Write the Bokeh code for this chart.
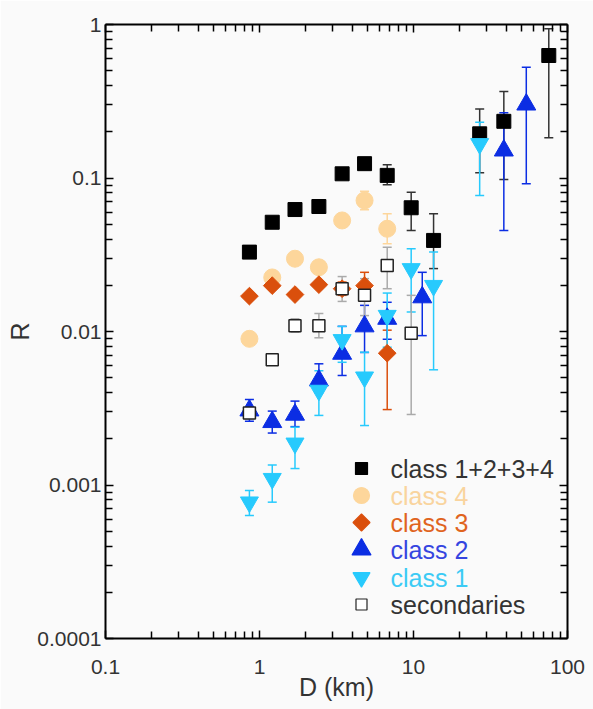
import math
from bokeh.plotting import figure
from bokeh.models import (LogAxis, FixedTicker, CustomJSTickFormatter, Whisker, TeeHead,
                          ColumnDataSource, Range1d, LinearScale)
from bokeh.core.properties import value
from bokeh.embed import file_html
from bokeh.resources import INLINE

# ---------------- data ----------------
# class 1+2+3+4
D_all = [0.86, 1.21, 1.70, 2.43, 3.44, 4.81, 6.75, 9.66, 13.5, 26.9, 38.6, 75.6]
R_all = [0.0329, 0.0515, 0.0623, 0.0652, 0.1065, 0.124, 0.104, 0.064, 0.0392, 0.194, 0.234, 0.628]
lo_all = [0.0329, 0.0515, 0.0623, 0.0652, 0.1065, 0.124, 0.0903, 0.0455, 0.0257, 0.108, 0.0978, 0.183]
hi_all = [0.0329, 0.0515, 0.0623, 0.0652, 0.1065, 0.124, 0.122, 0.0808, 0.0585, 0.282, 0.366, 0.937]

# class 4
D_c4 = [0.86, 1.21, 1.70, 2.43, 3.44, 4.81, 6.75]
R_c4 = [0.00896, 0.0225, 0.0298, 0.0262, 0.0529, 0.0714, 0.0467]
lo_c4 = [0.00896, 0.0225, 0.0298, 0.0262, 0.0529, 0.062, 0.0373]
hi_c4 = [0.00896, 0.0225, 0.0298, 0.0262, 0.0529, 0.082, 0.0585]

# class 3
D_c3 = [0.86, 1.21, 1.70, 2.43, 3.44, 4.81, 6.75]
R_c3 = [0.0170, 0.0199, 0.0174, 0.0202, 0.0190, 0.0199, 0.00722]
lo_c3 = [0.0170, 0.0199, 0.0174, 0.0202, 0.0172, 0.0163, 0.0031]
hi_c3 = [0.0170, 0.0199, 0.0174, 0.0202, 0.0210, 0.0243, 0.0102]

# class 2
D_c2 = [0.86, 1.21, 1.70, 2.43, 3.44, 4.81, 6.75, 11.4, 38.6, 54.0]
R_c2 = [0.00306, 0.00257, 0.00287, 0.0048, 0.00716, 0.0108, 0.0121, 0.0167, 0.151, 0.301]
lo_c2 = [0.0026, 0.00218, 0.0024, 0.0040, 0.00517, 0.0073, 0.0089, 0.0094, 0.0455, 0.0917]
hi_c2 = [0.0036, 0.00303, 0.00352, 0.00616, 0.0108, 0.0148, 0.0155, 0.0243, 0.266, 0.527]

# class 1
D_c1 = [0.86, 1.21, 1.70, 2.43, 3.44, 4.81, 6.75, 9.66, 13.5, 26.9]
R_c1 = [0.000773, 0.0011, 0.00187, 0.00413, 0.00883, 0.00504, 0.0127, 0.0256, 0.0199, 0.167]
lo_c1 = [0.000633, 0.000773, 0.00128, 0.00284, 0.0063, 0.00244, 0.0079, 0.0134, 0.00563, 0.0769]
hi_c1 = [0.00092, 0.00135, 0.00238, 0.00555, 0.0108, 0.00733, 0.0178, 0.0346, 0.0329, 0.231]

# secondaries
D_sec = [0.86, 1.21, 1.70, 2.43, 3.44, 4.81, 6.75, 9.66]
R_sec = [0.00295, 0.00654, 0.0109, 0.0109, 0.0190, 0.0172, 0.0269, 0.00975]
lo_sec = [0.0027, 0.0061, 0.0099, 0.0091, 0.0157, 0.0127, 0.0190, 0.00288]
hi_sec = [0.0032, 0.0070, 0.0121, 0.0131, 0.0228, 0.0221, 0.0354, 0.0172]

x_ticks = [0.1, 1, 10, 100]
x_tick_labels = ["0.1", "1", "10", "100"]
y_ticks = [0.0001, 0.001, 0.01, 0.1, 1]
y_tick_labels = ["0.0001", "0.001", "0.01", "0.1", "1"]

legend_labels = ["class 1+2+3+4", "class 4", "class 3", "class 2", "class 1", "secondaries"]

# ---------------- styling ----------------
FONT = "Liberation Sans"
BG = "#fafafa"
TXT = "#333333"

W, H = 593, 709
FL, FR, FT, FB = 105, 567, 24, 638      # plot frame edges in page pixels

p = figure(width=W, height=H, x_axis_type="log", y_axis_type="log",
           x_range=(0.1, 100), y_range=(0.0001, 1),
           output_backend="svg", toolbar_location=None,
           min_border_left=FL, min_border_right=W - FR, min_border_top=FT, min_border_bottom=H - FB,
           background_fill_color=BG, border_fill_color=BG)
p.grid.visible = False
p.outline_line_color = None

# pixel ranges used to lay out the legend block inside the frame
p.extra_x_ranges = {"px": Range1d(0, FR - FL)}
p.extra_y_ranges = {"px": Range1d(0, FB - FT)}
p.extra_x_scales = {"px": LinearScale()}
p.extra_y_scales = {"px": LinearScale()}

x_minor = [k * 10.0 ** e for e in (-1, 0, 1) for k in range(2, 10)]
y_minor = [k * 10.0 ** e for e in (-4, -3, -2, -1) for k in range(2, 10)]

fmt_code = """
for (let i = 0; i < vals.length; i++) {
  if (Math.abs(Math.log10(tick) - Math.log10(vals[i])) < 1e-6) return labs[i];
}
return "";
"""
xfmt = CustomJSTickFormatter(args=dict(vals=x_ticks, labs=x_tick_labels), code=fmt_code)
yfmt = CustomJSTickFormatter(args=dict(vals=y_ticks, labs=y_tick_labels), code=fmt_code)
blank = CustomJSTickFormatter(code="return ' ';")


def style_axis(ax, ticker, fmt, labels=True):
    ax.ticker = ticker
    ax.formatter = fmt
    ax.axis_line_width = 2
    ax.axis_line_color = "black"
    ax.major_tick_in = 8
    ax.major_tick_out = 0
    ax.minor_tick_in = 7
    ax.minor_tick_out = 0
    ax.major_tick_line_width = 1.5
    ax.minor_tick_line_width = 1.5
    ax.major_tick_line_color = "black"
    ax.minor_tick_line_color = "black"
    if labels:
        ax.major_label_text_font = FONT
        ax.major_label_text_font_size = "21px"
        ax.major_label_text_color = TXT
        ax.axis_label_text_font = FONT
        ax.axis_label_text_font_size = "25px"
        ax.axis_label_text_font_style = "normal"
        ax.axis_label_text_color = TXT
    else:
        ax.major_label_text_font_size = "2px"
        ax.major_label_text_alpha = 0
        ax.major_label_standoff = 0


style_axis(p.xaxis[0], FixedTicker(ticks=x_ticks, minor_ticks=x_minor), xfmt)
style_axis(p.yaxis[0], FixedTicker(ticks=y_ticks, minor_ticks=y_minor), yfmt)
p.xaxis[0].axis_label = "D (km)"
p.yaxis[0].axis_label = "R"
p.xaxis[0].major_label_standoff = 21
p.xaxis[0].axis_label_standoff = -4
p.yaxis[0].major_label_standoff = 4
p.yaxis[0].axis_label_standoff = 0

top = LogAxis()
style_axis(top, FixedTicker(ticks=x_ticks, minor_ticks=x_minor), blank, labels=False)
p.add_layout(top, "above")
right = LogAxis()
style_axis(right, FixedTicker(ticks=y_ticks, minor_ticks=y_minor), blank, labels=False)
p.add_layout(right, "right")


def errbars(D, lo, hi, color):
    src = ColumnDataSource(dict(x=D, lo=lo, hi=hi))
    w = Whisker(source=src, base="x", lower="lo", upper="hi", dimension="height",
                line_color=color, line_width=1.5,
                lower_head=TeeHead(size=9, line_color=color, line_width=1.5),
                upper_head=TeeHead(size=9, line_color=color, line_width=1.5))
    p.add_layout(w)


C_ALL = "#000000"
C4 = "#FDD69B"
C3 = "#DA4F0C"
C2 = "#0B2DE3"
C1 = "#27CAFD"
SEC_LINE = "#222222"

errbars(D_all, lo_all, hi_all, "#333333")
errbars(D_c4, lo_c4, hi_c4, C4)
errbars(D_c3, lo_c3, hi_c3, C3)
errbars(D_c2, lo_c2, hi_c2, C2)
errbars(D_c1, lo_c1, hi_c1, C1)
errbars(D_sec, lo_sec, hi_sec, "#AAAAAA")

p.scatter(D_all, R_all, marker="square", size=14, fill_color=C_ALL, line_color=C_ALL)
p.scatter(D_c4, R_c4, marker="circle", size=17, fill_color=C4, line_color=C4)
p.scatter(D_c3, R_c3, marker="square", angle=math.pi / 4, size=12.5, fill_color=C3, line_color=C3)
p.scatter(D_c2, R_c2, marker="triangle", size=19, fill_color=C2, line_color=C2)
p.scatter(D_c1, R_c1, marker="inverted_triangle", size=18, fill_color=C1, line_color=C1)
p.scatter(D_sec, R_sec, marker="square", size=12, fill_color="white",
          line_color=SEC_LINE, line_width=1.5)

# ---------------- legend block (pixel layout inside the frame) ----------------
MARK_X, TEXT_X = 361 - FL, 390 - FL
row_page_y = [468, 495, 522, 549, 577, 604]
row_y = [FB - y for y in row_page_y]
leg_markers = ["square", "circle", "square", "triangle", "inverted_triangle", "square"]
leg_sizes = [12, 16, 12, 19, 17, 11]
leg_angles = [0, 0, math.pi / 4, 0, 0, 0]
leg_fill = [C_ALL, C4, C3, C2, C1, "white"]
leg_line = [C_ALL, C4, C3, C2, C1, SEC_LINE]
leg_text_colors = [TXT, "#F9D49E", "#E0641E", "#3545E0", "#3CCBF5", TXT]

leg_src = ColumnDataSource(dict(
    x=[MARK_X] * len(row_y), y=row_y, marker=leg_markers, size=leg_sizes, angle=leg_angles,
    fill=leg_fill, line=leg_line))
p.scatter("x", "y", source=leg_src, marker="marker", size="size", angle="angle",
          fill_color="fill", line_color="line", line_width=1.2,
          x_range_name="px", y_range_name="px")

txt_src = ColumnDataSource(dict(x=[TEXT_X] * len(row_y), y=row_y, text=legend_labels,
                                color=leg_text_colors))
p.text("x", "y", text="text", source=txt_src, text_color="color",
       text_font=value(FONT), text_font_size=value("25px"),
       text_baseline="middle", text_align="left",
       x_range_name="px", y_range_name="px")

open("out.html", "w").write(file_html(p, INLINE))
